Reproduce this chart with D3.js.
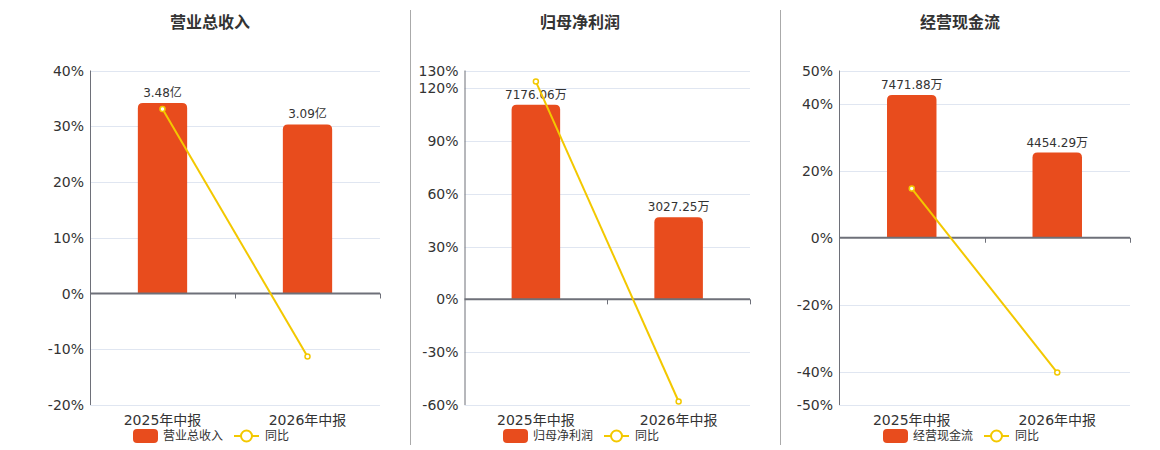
<!DOCTYPE html>
<html><head><meta charset="utf-8">
<script src="https://cdn.jsdelivr.net/npm/d3@7/dist/d3.min.js"></script>
<style>
html,body{margin:0;padding:0;background:#fff;}
svg{display:block;font-family:"DejaVu Sans","Noto Sans CJK SC",sans-serif;}
</style></head>
<body><svg id="c" width="1160" height="450"></svg>
<script>
// ---- data ----
const categories = ["2025年中报", "2026年中报"];
const titles = ["营业总收入", "归母净利润", "经营现金流"];
const legendYoY = "同比";

const revenueValues = [3.48, 3.09];
const revenueLabels = ["3.48亿", "3.09亿"];
const revenueYoY = [33.1, -11.3];
const revenueTicks = [-20, -10, 0, 10, 20, 30, 40];

const profitValues = [7176.06, 3027.25];
const profitLabels = ["7176.06万", "3027.25万"];
const profitYoY = [123.7, -58.0];
const profitTicks = [-60, -30, 0, 30, 60, 90, 120, 130];

const cashValues = [7471.88, 4454.29];
const cashLabels = ["7471.88万", "4454.29万"];
const cashYoY = [14.7, -40.3];
const cashTicks = [-50, -40, -20, 0, 20, 40, 50];

// bar-axis value at the top of each percent axis (hidden second axis)
const barAxisTops = [4.075, 8435, 8750];

// ---- layout ----
const panels = [
  {values: revenueValues, labels: revenueLabels, yoy: revenueYoY, ticks: revenueTicks,
   left: 90, right: 380, center: 210},
  {values: profitValues, labels: profitLabels, yoy: profitYoY, ticks: profitTicks,
   left: 464.5, right: 750, center: 580},
  {values: cashValues, labels: cashLabels, yoy: cashYoY, ticks: cashTicks,
   left: 839, right: 1130, center: 960}
];
const plotTop = 70.5, plotBottom = 405;
const barColor = "#E84C1D", lineColor = "#F3C800";
const axisColor = "#6E7079", gridColor = "#E0E6F1", textColor = "#333";

const svg = d3.select("#c");

// separators
[410, 780].forEach(x => {
  svg.append("line").attr("x1", x + 0.5).attr("x2", x + 0.5).attr("y1", 10).attr("y2", 445)
    .attr("stroke", "#aaa").attr("stroke-width", 1);
});

function roundTopRect(x, y, w, h, r) {
  r = Math.min(r, h, w / 2);
  return `M${x},${y + h}V${y + r}Q${x},${y} ${x + r},${y}H${x + w - r}Q${x + w},${y} ${x + w},${y + r}V${y + h}Z`;
}

panels.forEach((p, i) => {
  const g = svg.append("g");
  const y = d3.scaleLinear().domain([d3.min(p.ticks), d3.max(p.ticks)]).range([plotBottom, plotTop]);
  const y0 = y(0);
  const yb = d3.scaleLinear().domain([0, barAxisTops[i]]).range([y0, plotTop]);
  const x = d3.scaleBand().domain(categories).range([p.left, p.right]).paddingInner(0).paddingOuter(0);
  const bw = x.bandwidth() * 0.34;

  // title
  g.append("text").attr("x", p.center).attr("y", 28).attr("text-anchor", "middle")
    .attr("font-size", 16).attr("font-weight", "bold").attr("fill", textColor).text(titles[i]);

  // grid
  g.selectAll(".grid").data(p.ticks.filter(t => t !== 0)).join("line")
    .attr("x1", p.left).attr("x2", p.right)
    .attr("y1", d => Math.round(y(d)) + 0.5).attr("y2", d => Math.round(y(d)) + 0.5)
    .attr("stroke", gridColor).attr("stroke-width", 1);

  // y axis labels
  g.selectAll(".yl").data(p.ticks).join("text")
    .attr("x", p.left - 6).attr("y", d => y(d)).attr("dy", "0.36em")
    .attr("text-anchor", "end").attr("font-size", 14).attr("fill", textColor)
    .text(d => d + "%");

  // left axis line
  g.append("line").attr("x1", p.left + 0.5).attr("x2", p.left + 0.5)
    .attr("y1", plotTop).attr("y2", plotBottom).attr("stroke", axisColor).attr("stroke-width", 1);

  // bars
  g.selectAll(".bar").data(p.values).join("path")
    .attr("d", (d, j) => {
      const cx = x(categories[j]) + x.bandwidth() / 2;
      const yt = yb(d);
      return roundTopRect(cx - bw / 2, yt, bw, y0 - yt, 5);
    })
    .attr("fill", barColor);

  // zero axis line with ticks
  g.append("line").attr("x1", p.left).attr("x2", p.right).attr("y1", y0).attr("y2", y0)
    .attr("stroke", axisColor).attr("stroke-width", 2);
  categories.forEach((c, j) => {
    const tx = Math.round(x(c) + x.bandwidth()) + 0.5;
    g.append("line").attr("x1", tx).attr("x2", tx).attr("y1", y0).attr("y2", y0 + 5)
      .attr("stroke", axisColor).attr("stroke-width", 1);
  });

  // bar labels
  g.selectAll(".bl").data(p.values).join("text")
    .attr("x", (d, j) => x(categories[j]) + x.bandwidth() / 2)
    .attr("y", d => yb(d) - 6)
    .attr("text-anchor", "middle").attr("font-size", 12).attr("fill", textColor)
    .text((d, j) => p.labels[j]);

  // category labels
  g.selectAll(".cl").data(categories).join("text")
    .attr("x", d => x(d) + x.bandwidth() / 2).attr("y", 425)
    .attr("text-anchor", "middle").attr("font-size", 14).attr("fill", textColor)
    .text(d => d);

  // yoy line
  const line = d3.line().x((d, j) => x(categories[j]) + x.bandwidth() / 2).y(d => y(d));
  g.append("path").datum(p.yoy).attr("d", line).attr("fill", "none")
    .attr("stroke", lineColor).attr("stroke-width", 2);
  g.selectAll(".pt").data(p.yoy).join("circle")
    .attr("cx", (d, j) => x(categories[j]) + x.bandwidth() / 2).attr("cy", d => y(d))
    .attr("r", 2.5).attr("fill", "#fff").attr("stroke", lineColor).attr("stroke-width", 1.5);

  // legend
  const lx = p.center - 77, ly = 436;
  g.append("rect").attr("x", lx).attr("y", ly - 7).attr("width", 25).attr("height", 14)
    .attr("rx", 4).attr("fill", barColor);
  g.append("text").attr("x", lx + 30).attr("y", ly).attr("dy", "0.36em")
    .attr("font-size", 12).attr("fill", textColor).text(titles[i]);
  const l2 = lx + 101;
  g.append("line").attr("x1", l2).attr("x2", l2 + 25).attr("y1", ly).attr("y2", ly)
    .attr("stroke", lineColor).attr("stroke-width", 2);
  g.append("circle").attr("cx", l2 + 12.5).attr("cy", ly).attr("r", 5.5)
    .attr("fill", "#fff").attr("stroke", lineColor).attr("stroke-width", 2);
  g.append("text").attr("x", l2 + 31).attr("y", ly).attr("dy", "0.36em")
    .attr("font-size", 12).attr("fill", textColor).text(legendYoY);
});
</script>
</body></html>
